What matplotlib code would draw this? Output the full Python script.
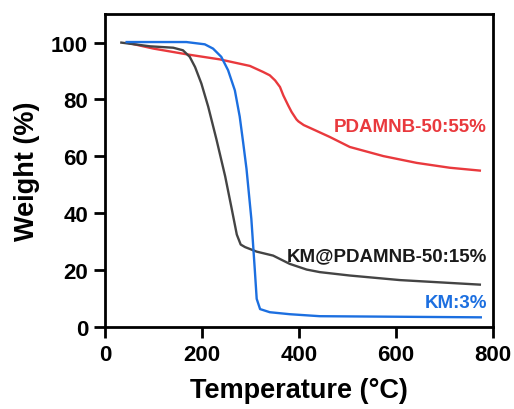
import numpy as np
import matplotlib
matplotlib.use("Agg")
import matplotlib.pyplot as plt

plt.rcParams['font.family'] = ['Liberation Sans', 'DejaVu Sans']
plt.rcParams['font.weight'] = 'bold'

# PDAMNB-50
t_red = [45, 100, 168, 237, 299, 326, 340, 351, 361, 368, 378, 385, 395, 399, 410, 423,
         464, 505, 574, 643, 711, 773]
w_red = [100, 97.9, 95.9, 94.1, 91.8, 89.7, 88.5, 86.7, 84.4, 81.4, 77.9, 75.6, 73.0, 72.3, 71.0, 70.0,
         66.8, 63.3, 60.1, 57.7, 56.0, 55.0]

# KM@PDAMNB-50
t_blk = [34, 93, 141, 161, 175, 186, 199, 213, 230, 248, 261, 272, 280, 289, 313, 347,
         381, 416, 443, 505, 608, 773]
w_blk = [100, 98.7, 98.2, 97.3, 95.0, 91.4, 85.6, 77.5, 66.0, 53.0, 42.0, 32.5, 29.0, 28.1, 26.5, 25.1,
         22.2, 20.2, 19.3, 18.1, 16.5, 14.9]

# KM
t_blu = [45, 168, 206, 223, 240, 254, 268, 278, 285, 292, 302, 309, 313, 320, 340, 381,
         443, 608, 775]
w_blu = [100.2, 100.2, 99.4, 97.9, 95.0, 90.3, 83.2, 74.0, 65.0, 55.6, 38.0, 20.4, 9.9, 6.3, 5.2, 4.5,
         3.8, 3.6, 3.4]

red = '#e9393d'
blue = '#1c6fe0'
gray = '#444444'

fig = plt.figure(figsize=(5.14, 4.10), dpi=100)
ax = fig.add_axes([0.204, 0.2, 0.755, 0.763])

ax.plot(t_red, w_red, color=red, lw=1.7, solid_joinstyle='round')
ax.plot(t_blk, w_blk, color=gray, lw=1.7, solid_joinstyle='round')
ax.plot(t_blu, w_blu, color=blue, lw=1.7, solid_joinstyle='round')

ax.text(788, 70.4, 'PDAMNB-50:55%', color=red, fontsize=13.5, fontweight='bold', ha='right', va='center')
ax.text(788, 25, 'KM@PDAMNB-50:15%', color='#1a1a1a', fontsize=13.5, fontweight='bold', ha='right', va='center')
ax.text(788, 8.5, 'KM:3%', color=blue, fontsize=13.5, fontweight='bold', ha='right', va='center')

ax.set_xlim(0, 800)
ax.set_ylim(0, 110)
ax.set_xticks([0, 200, 400, 600, 800])
ax.set_yticks([0, 20, 40, 60, 80, 100])
ax.tick_params(direction='out', length=8, width=2, labelsize=16, pad=4)
for lab in ax.get_xticklabels() + ax.get_yticklabels():
    lab.set_fontweight('bold')
for s in ax.spines.values():
    s.set_linewidth(2)

ax.set_xlabel('Temperature (°C)', fontsize=19.5, fontweight='bold', labelpad=9)
ax.set_ylabel('Weight (%)', fontsize=19.5, fontweight='bold', labelpad=8)

fig.savefig('out.png', dpi=100)
